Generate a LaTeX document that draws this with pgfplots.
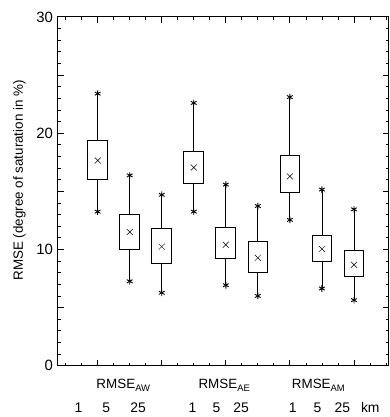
\documentclass[border=0pt]{standalone}
\usepackage{pgfplots}
\pgfplotsset{compat=1.18}
\usepgfplotslibrary{statistics}
\usepackage{fontspec}
\setmainfont{Liberation Sans}
\newcommand{\sub}[1]{\raisebox{-0.45ex}{\fontsize{9.5}{9.5}\selectfont #1}}
\begin{document}
\fontsize{13.5}{16}\selectfont
\begin{tikzpicture}
\begin{axis}[
  scale only axis,
  width=333pt, height=351pt,
  xmin=-0.25, xmax=10.08,
  ymin=0, ymax=30,
  clip=false,
  axis line style={line width=0.9pt},
  tick style={line width=0.8pt, black},
  major tick length=6pt, minor tick length=3pt,
  tick align=inside,
  xtick={1,3,5,7,9}, xticklabels={},
  minor xtick={0,0.5,...,10},
  ytick={0,5,...,30}, yticklabels={0,,10,,20,,30},
  minor ytick={0,1,...,30},
  tick label style={font=\fontsize{15}{17}\selectfont},
  /pgf/number format/assume math mode=true,
  ylabel={RMSE (degree of saturation in \%)},
  ylabel style={at={(rel axis cs:0,0.5)}, anchor=center, yshift=38.5pt, xshift=11pt, font=\fontsize{13.5}{16}\selectfont},
  boxplot/draw direction=y,
  boxplot/box extend=0.62,
  boxplot/whisker extend=0,
  boxplot/draw/median/.code={},
]
\addplot[black, line width=0.8pt, boxplot prepared={lower whisker=13.25, lower quartile=16.0, median=17.65, upper quartile=19.35, upper whisker=23.4, draw position=1}] coordinates {};
\addplot[black, line width=0.8pt, boxplot prepared={lower whisker=7.26, lower quartile=10.04, median=11.5, upper quartile=13.0, upper whisker=16.37, draw position=2}] coordinates {};
\addplot[black, line width=0.8pt, boxplot prepared={lower whisker=6.27, lower quartile=8.77, median=10.24, upper quartile=11.83, upper whisker=14.7, draw position=3}] coordinates {};
\addplot[black, line width=0.8pt, boxplot prepared={lower whisker=13.25, lower quartile=15.7, median=17.05, upper quartile=18.4, upper whisker=22.6, draw position=4}] coordinates {};
\addplot[black, line width=0.8pt, boxplot prepared={lower whisker=6.92, lower quartile=9.19, median=10.4, upper quartile=11.9, upper whisker=15.57, draw position=5}] coordinates {};
\addplot[black, line width=0.8pt, boxplot prepared={lower whisker=6.0, lower quartile=8.06, median=9.28, upper quartile=10.67, upper whisker=13.73, draw position=6}] coordinates {};
\addplot[black, line width=0.8pt, boxplot prepared={lower whisker=12.54, lower quartile=14.92, median=16.28, upper quartile=18.07, upper whisker=23.1, draw position=7}] coordinates {};
\addplot[black, line width=0.8pt, boxplot prepared={lower whisker=6.64, lower quartile=8.96, median=10.04, upper quartile=11.18, upper whisker=15.15, draw position=8}] coordinates {};
\addplot[black, line width=0.8pt, boxplot prepared={lower whisker=5.64, lower quartile=7.69, median=8.68, upper quartile=9.9, upper whisker=13.45, draw position=9}] coordinates {};
% means
\addplot[only marks, mark=x, mark size=4.2pt, mark options={line width=0.5pt, black}] coordinates {
(1,17.65) (2,11.5) (3,10.24) (4,17.05) (5,10.4) (6,9.28) (7,16.28) (8,10.04) (9,8.68)};
% whisker ends
\addplot[only marks, mark=asterisk, mark size=3.3pt, mark options={line width=0.9pt, black}] coordinates {
(1,13.25) (1,23.4) (2,7.26) (2,16.37) (3,6.27) (3,14.7)
(4,13.25) (4,22.6) (5,6.92) (5,15.57) (6,6.0) (6,13.73)
(7,12.54) (7,23.1) (8,6.64) (8,15.15) (9,5.64) (9,13.45)};
% group labels
\node[anchor=base, yshift=-22.5pt] at (axis cs:1.8,0) {RMSE\sub{AW}};
\node[anchor=base, yshift=-22.5pt] at (axis cs:4.95,0) {RMSE\sub{AE}};
\node[anchor=base, yshift=-22.5pt] at (axis cs:7.89,0) {RMSE\sub{AM}};
\node[anchor=base, yshift=-47pt, font=\fontsize{14}{16}\selectfont] at (axis cs:0.40,0) {1};
\node[anchor=base, yshift=-47pt, font=\fontsize{14}{16}\selectfont] at (axis cs:1.27,0) {5};
\node[anchor=base, yshift=-47pt, font=\fontsize{14}{16}\selectfont] at (axis cs:2.26,0) {25};
\node[anchor=base, yshift=-47pt, font=\fontsize{14}{16}\selectfont] at (axis cs:3.96,0) {1};
\node[anchor=base, yshift=-47pt, font=\fontsize{14}{16}\selectfont] at (axis cs:4.71,0) {5};
\node[anchor=base, yshift=-47pt, font=\fontsize{14}{16}\selectfont] at (axis cs:5.48,0) {25};
\node[anchor=base, yshift=-47pt, font=\fontsize{14}{16}\selectfont] at (axis cs:7.09,0) {1};
\node[anchor=base, yshift=-47pt, font=\fontsize{14}{16}\selectfont] at (axis cs:7.86,0) {5};
\node[anchor=base, yshift=-47pt, font=\fontsize{14}{16}\selectfont] at (axis cs:8.64,0) {25};
\node[anchor=base, yshift=-47pt, font=\fontsize{14}{16}\selectfont] at (axis cs:9.51,0) {km};
\end{axis}
\path ([xshift=-58pt,yshift=-49pt]current axis.south west) rectangle ++(392pt,417pt);
\end{tikzpicture}
\end{document}
